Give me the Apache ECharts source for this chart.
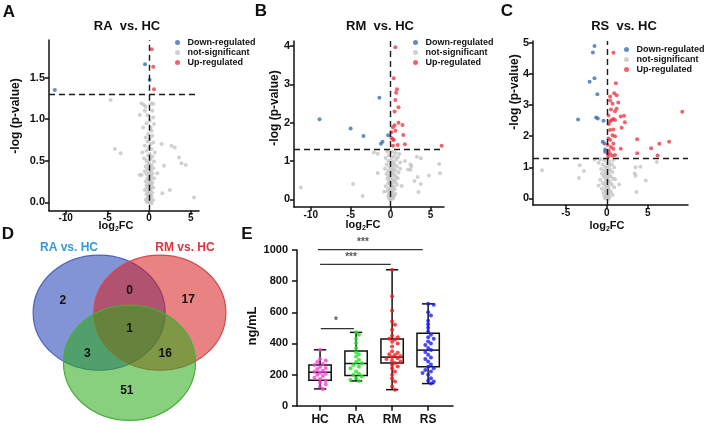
<!DOCTYPE html>
<html>
<head>
<meta charset="utf-8">
<script src="https://cdn.jsdelivr.net/npm/echarts@6/dist/echarts.min.js"></script>
<style>
  html, body { margin: 0; padding: 0; background: #fff; }
  #main { width: 708px; height: 433px; }
</style>
</head>
<body>
<div id="main"></div>
<script>
// volcano points, [log2FC, -log p]
var raDown = [[-11.3, 1.35], [-0.48, 1.66], [0.08, 1.47]];
var raUp = [[0.32, 1.84], [0.5, 1.63], [0.6, 1.36]];
var raNs = [
    [-0.9, 1.19], [-0.6, 1.17], [-0.4, 1.15], [0.3, 1.19], [0.5, 1.18], [-0.5, 1.1], [0.4, 1.1], [-1.1, 1.05],
    [-0.2, 1.05], [0.5, 1.02], [0.1, 0.98], [-0.3, 0.95], [0.6, 0.94], [-0.7, 0.9], [0.2, 0.9], [0.3, 0.86],
    [-0.1, 0.82], [0.4, 0.8], [-0.4, 0.78], [0.1, 0.76], [-0.2, 0.73], [0.5, 0.72], [0.2, 0.7], [-0.5, 0.68],
    [0.0, 0.66], [0.3, 0.64], [-0.3, 0.62], [0.7, 0.6], [-0.8, 0.6], [0.1, 0.58], [-0.1, 0.56], [0.4, 0.55],
    [-0.6, 0.53], [0.2, 0.52], [-0.3, 0.5], [0.6, 0.49], [0.0, 0.48], [-0.1, 0.46], [0.3, 0.45], [-0.4, 0.43],
    [0.1, 0.42], [0.5, 0.41], [-0.2, 0.4], [0.2, 0.38], [-0.5, 0.37], [0.0, 0.36], [0.4, 0.35], [-0.3, 0.34],
    [0.1, 0.32], [-0.9, 0.33], [0.3, 0.31], [-0.1, 0.3], [0.6, 0.29], [-0.2, 0.28], [0.2, 0.27], [0.0, 0.26],
    [-0.4, 0.25], [0.4, 0.24], [0.1, 0.23], [-0.1, 0.22], [0.3, 0.21], [-0.3, 0.2], [0.0, 0.19], [0.5, 0.18],
    [-0.2, 0.17], [0.2, 0.16], [-0.5, 0.15], [0.1, 0.14], [-0.1, 0.13], [0.4, 0.12], [0.0, 0.11], [-0.3, 0.1],
    [0.2, 0.09], [-0.1, 0.08], [0.3, 0.07], [0.0, 0.06], [-0.2, 0.05], [0.1, 0.04], [0.5, 0.03], [-0.4, 0.03],
    [0.2, 0.02], [-0.1, 0.01], [0.0, 0.0], [0.3, -0.01], [-0.2, 0.0],
    [-4.6, 1.23], [-4.1, 0.64], [-3.4, 0.59], [1.5, 0.7], [2.7, 0.68], [3.1, 0.66], [3.6, 0.54], [3.9, 0.47],
    [4.4, 0.45], [1.8, 0.44], [2.5, 0.15], [1.6, 0.11], [5.4, 0.06], [1.0, 0.35], [-1.1, 0.33]
];

var rmDown = [[-8.9, 2.09], [-5.0, 1.85], [-3.4, 1.65], [-1.4, 2.65], [-1.2, 1.45], [-1.0, 1.5], [-0.3, 1.67]];
var rmUp = [
    [0.6, 3.97], [0.4, 3.16], [0.8, 2.87], [0.7, 2.78], [0.6, 2.59], [1.0, 2.4], [0.5, 2.29], [1.0, 2.0],
    [1.5, 1.94], [0.5, 1.93], [0.3, 1.88], [0.6, 1.79], [0.1, 1.75], [1.6, 1.68], [0.1, 1.6], [0.3, 1.57],
    [0.4, 1.55], [0.9, 1.42], [1.8, 1.44], [0.3, 1.4], [6.4, 1.4]
];
var rmNs = [
    [-2.1, 1.22], [-1.6, 1.19], [-0.4, 1.25], [0.2, 1.24], [0.6, 1.21], [1.1, 1.18], [-0.2, 1.15], [0.4, 1.12],
    [0.9, 1.1], [-0.6, 1.08], [0.1, 1.06], [0.7, 1.03], [-0.3, 1.0], [0.3, 0.98], [1.2, 0.96], [0.0, 0.94],
    [0.5, 0.92], [-0.5, 0.9], [0.2, 0.88], [0.8, 0.86], [-0.1, 0.84], [0.4, 0.82], [-0.7, 0.8], [0.1, 0.78],
    [0.6, 0.76], [-0.3, 0.74], [0.3, 0.72], [1.0, 0.7], [0.0, 0.68], [-0.5, 0.66], [0.5, 0.64], [0.2, 0.62],
    [-0.2, 0.6], [0.7, 0.58], [0.0, 0.56], [-0.4, 0.54], [0.4, 0.52], [0.1, 0.5], [-0.1, 0.48], [0.6, 0.46],
    [0.3, 0.44], [-0.3, 0.42], [0.0, 0.4], [0.8, 0.38], [0.2, 0.36], [-0.6, 0.34], [0.4, 0.32], [0.1, 0.3],
    [-0.2, 0.28], [0.5, 0.26], [0.0, 0.24], [-0.4, 0.22], [0.3, 0.2], [0.1, 0.18], [-0.1, 0.16], [0.6, 0.14],
    [0.2, 0.12], [-0.3, 0.1], [0.4, 0.08], [0.0, 0.06], [-0.2, 0.04], [0.2, 0.03], [0.1, 0.01], [-0.1, 0.0],
    [0.3, 0.02], [-1.6, 0.69], [1.4, 0.35], [-0.8, 0.2], [0.9, 0.55], [1.2, 0.8],
    [-11.25, 0.31], [-4.7, 0.4], [-3.5, 0.09], [3.3, 1.11], [3.8, 1.07], [2.5, 0.91], [2.6, 0.86], [2.5, 0.77],
    [3.4, 0.58], [3.0, 0.48], [3.8, 0.4], [3.5, 0.19], [4.8, 0.62], [6.2, 0.68], [6.1, 0.92], [2.2, 0.78], [1.8, 1.0]
];

var rsDown = [
    [-1.5, 4.9], [-1.7, 4.69], [-1.5, 3.86], [-2.1, 3.75], [-1.15, 3.35], [-3.5, 2.54], [-1.3, 2.6],
    [-1.1, 2.57], [-0.4, 2.5], [-0.5, 1.82], [-0.3, 1.77], [-0.2, 1.57], [-0.2, 1.5]
];
var rsUp = [
    [0.8, 4.68], [1.1, 3.7], [0.9, 3.38], [1.2, 3.32], [0.4, 3.28], [1.4, 3.08], [0.4, 3.15], [0.7, 3.04],
    [1.2, 2.88], [0.5, 2.86], [1.0, 2.8], [0.2, 2.67], [1.7, 2.63], [2.1, 2.66], [0.6, 2.52], [0.8, 2.55],
    [1.0, 2.52], [0.4, 2.48], [2.2, 2.45], [0.25, 2.39], [0.4, 2.2], [0.8, 2.22], [1.8, 2.27], [0.7, 2.03],
    [1.0, 2.0], [0.2, 1.93], [0.4, 1.88], [0.8, 1.77], [0.1, 1.73], [0.5, 1.65], [0.8, 1.6], [1.7, 1.6],
    [0.25, 1.53], [0.1, 1.44], [0.4, 1.43], [0.7, 1.37], [1.0, 1.4], [0.2, 1.36],
    [3.7, 1.9], [3.7, 1.45], [5.4, 1.61], [6.4, 1.76], [7.6, 1.82], [6.2, 1.38], [9.2, 2.79]
];
var rsNs = [
    [-1.5, 1.25], [-0.8, 1.26], [-0.3, 1.22], [0.3, 1.2], [0.8, 1.24], [-1.0, 1.15], [0.1, 1.13], [0.6, 1.1],
    [-0.5, 1.08], [0.3, 1.05], [-0.2, 1.02], [0.9, 1.0], [0.0, 0.98], [-0.7, 0.95], [0.4, 0.93], [-0.3, 0.9],
    [0.2, 0.88], [0.7, 0.85], [-0.1, 0.82], [-0.6, 0.8], [0.3, 0.78], [0.0, 0.75], [-0.4, 0.72], [0.5, 0.7],
    [0.1, 0.68], [-0.2, 0.65], [0.8, 0.63], [-0.8, 0.6], [0.2, 0.58], [-0.1, 0.55], [0.4, 0.53], [-0.5, 0.5],
    [0.0, 0.48], [0.6, 0.45], [-0.3, 0.43], [0.2, 0.4], [-0.1, 0.38], [0.9, 0.36], [0.1, 0.33], [-0.6, 0.31],
    [0.3, 0.28], [-0.2, 0.26], [0.0, 0.23], [0.5, 0.21], [-0.4, 0.18], [0.2, 0.16], [-0.1, 0.13], [0.7, 0.11],
    [0.1, 0.09], [-0.3, 0.07], [0.3, 0.05], [-0.1, 0.03], [0.0, 0.01], [0.2, -0.01], [-0.2, 0.0], [1.0, 0.62],
    [-1.0, 0.42],
    [-7.9, 0.91], [-3.3, 1.07], [-3.4, 0.66], [-2.8, 0.88], [3.5, 1.0], [4.1, 1.02], [3.4, 0.8], [3.5, 0.73],
    [4.75, 0.58], [3.6, 0.21], [6.1, 1.17], [1.5, 0.45]
];

var volcanoTitles = ['RA  vs. HC', 'RM  vs. HC', 'RS  vs. HC'];
var legendNames = ['Down-regulated', 'not-significant', 'Up-regulated'];
var pCut = 1.3;

// venn
var vennSets = ['RA vs. HC', 'RM vs. HC', 'RS vs. HC'];
var vennCounts = [2, 0, 17, 1, 3, 16, 51]; // RA, RA&RM, RM, all, RA&RS, RM&RS, RS

// box plot
var boxCats = ['HC', 'RA', 'RM', 'RS'];
var boxMin = [108, 159, 103, 142];
var boxQ1 = [164, 194, 275, 250];
var boxMed = [215, 271, 312, 357];
var boxQ3 = [262, 351, 428, 465];
var boxMax = [359, 471, 873, 654];
var hcVals = [359, 300, 290, 280, 268, 262, 250, 242, 235, 225, 218, 212, 205, 198, 190, 180, 172, 160, 150, 138, 123, 108];
var raVals = [471, 456, 430, 402, 370, 344, 330, 316, 295, 280, 273, 262, 250, 241, 219, 205, 198, 187, 177, 166, 159];
var rmVals = [873, 703, 611, 540, 520, 488, 450, 440, 430, 425, 411, 400, 380, 349, 340, 330, 325, 318, 312, 305, 300,
    290, 284, 275, 262, 252, 240, 220, 198, 175, 155, 123, 103];
var rsVals = [654, 648, 600, 580, 546, 523, 500, 477, 456, 440, 430, 413, 400, 390, 370, 357, 345, 327, 310, 300, 284,
    265, 250, 241, 230, 219, 210, 198, 177, 160, 155, 142];
var sigFrom = [0.02, 0, -0.06];
var sigTo = [0.94, 1.96, 2.85];
var sigLevel = [495, 908, 1003];
var sigMark = ['*', '***', '***'];
var sigMarkAt = [0.44, 0.86, 1.19];

var FONT = 'Liberation Sans, Arial, sans-serif';
var INK = '#111';
var C_DOWN = '#3b6fb6', C_NS = '#c4c4c4', C_UP = '#ee3b46';
var DOT_COLORS = ['#ff3fd2', '#1ee61e', '#ff1414', '#1a1aff'];

var chart = echarts.init(document.getElementById('main'));

function lineStyle() {
    return {color: INK, width: 1.5};
}

function volcanoAxes(gi, xr, yr, xticks, yticks, yfmt) {
    var x = {
        gridIndex: gi, type: 'value', min: xr[0], max: xr[1],
        splitLine: {show: false},
        axisLine: {show: true, onZero: false, lineStyle: lineStyle()},
        axisTick: {show: true, length: 4, customValues: xticks, lineStyle: lineStyle()},
        axisLabel: {customValues: xticks, color: INK, fontSize: 10, fontWeight: 'bold', fontFamily: FONT, margin: 3}
    };
    var y = {
        gridIndex: gi, type: 'value', min: yr[0], max: yr[1],
        splitLine: {show: false},
        axisLine: {show: true, onZero: false, lineStyle: lineStyle()},
        axisTick: {show: true, length: 4, customValues: yticks, lineStyle: lineStyle()},
        axisLabel: {
            customValues: yticks, color: INK, fontSize: 11, fontWeight: 'bold', fontFamily: FONT, margin: 4,
            formatter: yfmt
        }
    };
    return [x, y];
}

function volcanoSeries(gi, down, ns, up) {
    var base = {type: 'scatter', xAxisIndex: gi, yAxisIndex: gi, symbolSize: 4, silent: true};
    return [
        Object.assign({}, base, {
            name: legendNames[1], data: ns, itemStyle: {color: C_NS}, z: 2,
            markLine: {
                silent: true, symbol: 'none', label: {show: false},
                lineStyle: {color: '#1a1a1a', width: 1.4, type: [6, 4]},
                data: [{xAxis: 0}, {yAxis: pCut}]
            }
        }),
        Object.assign({}, base, {name: legendNames[0], data: down, itemStyle: {color: C_DOWN}, z: 3}),
        Object.assign({}, base, {name: legendNames[2], data: up, itemStyle: {color: C_UP}, z: 3})
    ];
}

function legendAt(left, top) {
    return {
        data: legendNames, orient: 'vertical', left: left, top: top, padding: 0,
        itemWidth: 10, itemHeight: 5, itemGap: 1, icon: 'circle', selectedMode: false,
        textStyle: {fontSize: 9, fontWeight: 'bold', fontFamily: FONT, color: INK, lineHeight: 9}
    };
}

// beeswarm offsets so dots do not overlap (px based)
function swarm(vals, idx) {
    var pxY = 155.7 / 1000, pxX = 36, d = 3.4, step = 2.8;
    var placed = [];
    return vals.map(function (v) {
        var k = 0, ox = 0;
        for (var t = 0; t < 20; t++) {
            k = t === 0 ? 0 : (t % 2 ? Math.ceil(t / 2) : -Math.ceil(t / 2));
            ox = k * step;
            var ok = placed.every(function (p) {
                var dx = ox - p[0], dy = (v - p[1]) * pxY;
                return dx * dx + dy * dy >= d * d;
            });
            if (ok) break;
        }
        placed.push([ox, v]);
        return [idx + ox / pxX, v];
    });
}

var axA = volcanoAxes(0, [-12, 6], [-0.1, 1.95], [-10, -5, 0, 5], [0, 0.5, 1, 1.5], function (v) { return v.toFixed(1); });
var axB = volcanoAxes(1, [-12.1, 6.7], [-0.2, 4.13], [-10, -5, 0, 5], [0, 1, 2, 3, 4]);
var axC = volcanoAxes(2, [-9, 9.9], [-0.21, 5.06], [-5, 0, 5], [0, 1, 2, 3, 4, 5]);

var xAxes = [axA[0], axB[0], axC[0],
    {gridIndex: 3, type: 'value', min: -1.5, max: 1.5, show: false},
    {
        gridIndex: 4, type: 'value', min: -0.64, max: 3.69,
        splitLine: {show: false},
        axisLine: {show: true, onZero: false, lineStyle: lineStyle()},
        axisTick: {show: true, length: 5, customValues: [0, 1, 2, 3], lineStyle: lineStyle()},
        axisLabel: {
            customValues: [0, 1, 2, 3], color: INK, fontSize: 12, fontWeight: 'bold', fontFamily: FONT, margin: 8,
            formatter: function (v) { return boxCats[Math.round(v)]; }
        }
    }];
var yAxes = [axA[1], axB[1], axC[1],
    {gridIndex: 3, type: 'value', min: -1.8, max: 1.8, show: false},
    {
        gridIndex: 4, type: 'value', min: 0, max: 1000, interval: 200,
        splitLine: {show: false},
        axisLine: {show: true, onZero: false, lineStyle: lineStyle()},
        axisTick: {show: true, length: 5, lineStyle: lineStyle()},
        axisLabel: {
            color: INK, fontSize: 11, fontWeight: 'bold', fontFamily: FONT, margin: 9,
            formatter: function (v) { return String(v); }
        }
    }];

// venn layout (unit circles)
var VENN_CENTER = [[-0.46, 0.29], [0.46, 0.29], [0, -0.58]];
var VENN_FILL = ['rgba(30,60,180,0.55)', 'rgba(215,30,30,0.55)', 'rgba(40,170,20,0.55)'];
var VENN_EDGE = ['#4a62bf', '#d9474a', '#46ad3a'];
var VENN_POS = [[-1.01, 0.5], [0, 0.68], [0.89, 0.52], [0, 0.02], [-0.64, -0.43], [0.54, -0.43], [-0.04, -1.06]];

var series = [];
series = series.concat(volcanoSeries(0, raDown, raNs, raUp));
series = series.concat(volcanoSeries(1, rmDown, rmNs, rmUp));
series = series.concat(volcanoSeries(2, rsDown, rsNs, rsUp));

series.push({
    type: 'custom', xAxisIndex: 3, yAxisIndex: 3, silent: true,
    data: VENN_CENTER.map(function (c, i) { return [c[0], c[1], i]; }),
    renderItem: function (params, api) {
        var p = api.coord([api.value(0), api.value(1)]);
        var s = api.size([1, 1]);
        var i = api.value(2);
        return {
            type: 'ellipse',
            shape: {cx: p[0], cy: p[1], rx: s[0], ry: s[1]},
            style: {fill: VENN_FILL[i], stroke: VENN_EDGE[i], lineWidth: 1.2}
        };
    }
});
series.push({
    type: 'custom', xAxisIndex: 3, yAxisIndex: 3, silent: true, z: 5,
    data: VENN_POS.map(function (p, i) { return [p[0], p[1], vennCounts[i]]; }),
    renderItem: function (params, api) {
        var p = api.coord([api.value(0), api.value(1)]);
        return {
            type: 'text', x: p[0], y: p[1],
            style: {
                text: String(api.value(2)), fill: INK, align: 'center', verticalAlign: 'middle',
                fontSize: 12, fontWeight: 'bold', fontFamily: FONT
            }
        };
    }
});

// box plot frames
series.push({
    type: 'custom', xAxisIndex: 4, yAxisIndex: 4, silent: true, z: 2,
    data: boxCats.map(function (c, i) { return [i, boxMin[i], boxQ1[i], boxMed[i], boxQ3[i], boxMax[i]]; }),
    encode: {x: 0, y: [1, 2, 3, 4, 5]},
    renderItem: function (params, api) {
        var x = api.value(0);
        var lo = api.coord([x, api.value(1)]), q1 = api.coord([x, api.value(2)]);
        var md = api.coord([x, api.value(3)]), q3 = api.coord([x, api.value(4)]);
        var hi = api.coord([x, api.value(5)]);
        var bw = api.size([0.62, 0])[0], cw = api.size([0.34, 0])[0];
        var st = {stroke: INK, lineWidth: 1.5, fill: 'none'};
        var cx = lo[0];
        return {
            type: 'group',
            children: [
                {type: 'line', shape: {x1: cx, y1: lo[1], x2: cx, y2: q1[1]}, style: st},
                {type: 'line', shape: {x1: cx, y1: q3[1], x2: cx, y2: hi[1]}, style: st},
                {type: 'line', shape: {x1: cx - cw / 2, y1: lo[1], x2: cx + cw / 2, y2: lo[1]}, style: st},
                {type: 'line', shape: {x1: cx - cw / 2, y1: hi[1], x2: cx + cw / 2, y2: hi[1]}, style: st},
                {type: 'rect', shape: {x: cx - bw / 2, y: q3[1], width: bw, height: q1[1] - q3[1]}, style: st},
                {type: 'line', shape: {x1: cx - bw / 2, y1: md[1], x2: cx + bw / 2, y2: md[1]}, style: st}
            ]
        };
    }
});
[hcVals, raVals, rmVals, rsVals].forEach(function (vals, i) {
    series.push({
        type: 'scatter', name: boxCats[i], xAxisIndex: 4, yAxisIndex: 4, silent: true, z: 4,
        symbolSize: 4, itemStyle: {color: DOT_COLORS[i]},
        data: swarm(vals, i)
    });
});
series.push({
    type: 'custom', xAxisIndex: 4, yAxisIndex: 4, silent: true, z: 3,
    data: sigMark.map(function (m, i) { return [sigFrom[i], sigTo[i], sigLevel[i], sigMarkAt[i]]; }),
    renderItem: function (params, api) {
        var a = api.coord([api.value(0), api.value(2)]);
        var b = api.coord([api.value(1), api.value(2)]);
        var t = api.coord([api.value(3), api.value(2)]);
        return {
            type: 'group',
            children: [
                {type: 'line', shape: {x1: a[0], y1: a[1], x2: b[0], y2: b[1]}, style: {stroke: '#333', lineWidth: 1.3}},
                {
                    type: 'text', x: t[0], y: t[1] - 2,
                    style: {
                        text: sigMark[params.dataIndex], fill: '#555', align: 'center', verticalAlign: 'bottom',
                        fontSize: 10, fontWeight: 'bold', fontFamily: FONT
                    }
                }
            ]
        };
    }
});

function txt(x, y, s, size, extra) {
    var o = {
        type: 'text', x: x, y: y, silent: true,
        style: {
            text: s, fill: INK, fontSize: size, fontWeight: 'bold', fontFamily: FONT,
            align: 'center', verticalAlign: 'middle', textAlign: 'center', textVerticalAlign: 'middle'
        }
    };
    if (extra) {
        if (extra.rotation) o.rotation = extra.rotation;
        if (extra.fill) o.style.fill = extra.fill;
        if (extra.rich) o.style.rich = extra.rich;
    }
    return o;
}
var sub = {rich: {s: {fontSize: 7, fontWeight: 'bold', fontFamily: FONT, verticalAlign: 'bottom', lineHeight: 14}}};
var graphics = [
    txt(9, 12, 'A', 17), txt(261, 11, 'B', 17), txt(507, 11, 'C', 17),
    txt(8, 234, 'D', 17), txt(247, 234, 'E', 17),
    txt(127, 26, volcanoTitles[0], 13), txt(380, 26, volcanoTitles[1], 13), txt(624, 26, volcanoTitles[2], 13),
    txt(16, 116, '-log (p-value)', 12, {rotation: Math.PI / 2}),
    txt(275, 108, '-log (p-value)', 12, {rotation: Math.PI / 2}),
    txt(515, 92, '-log (p-value)', 12, {rotation: Math.PI / 2}),
    txt(116, 226, 'log{s|2}FC', 11, sub),
    txt(363, 225, 'log{s|2}FC', 11, sub),
    txt(607, 226, 'log{s|2}FC', 11, sub),
    txt(69, 248, vennSets[0], 12, {fill: '#3399dd'}),
    txt(185, 248, vennSets[1], 12, {fill: '#e0343c'}),
    txt(252, 326, 'ng/mL', 13, {rotation: Math.PI / 2})
];

var option = {
    animation: false,
    backgroundColor: '#fff',
    textStyle: {fontFamily: FONT},
    grid: [
        {left: 49, top: 40, width: 150, height: 170.7},
        {left: 294, top: 41, width: 150, height: 166},
        {left: 533, top: 41, width: 155, height: 164},
        {left: 30.5, top: 225.7, width: 198, height: 219.6},
        {left: 297, top: 250, width: 156, height: 155.7}
    ],
    legend: [legendAt(175, 38), legendAt(413, 38), legendAt(624, 45)],
    xAxis: xAxes,
    yAxis: yAxes,
    graphic: graphics,
    series: series
};
chart.setOption(option);
</script>
</body>
</html>
